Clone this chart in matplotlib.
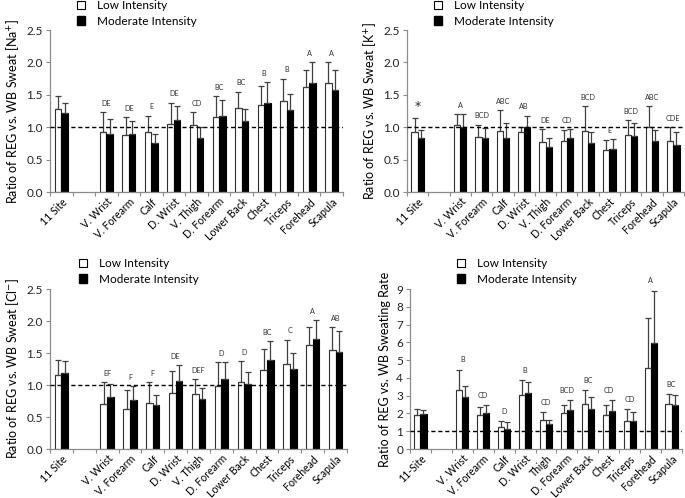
import matplotlib
matplotlib.use("Agg")
import matplotlib.pyplot as plt
from matplotlib.patches import Patch
import numpy as np

plt.rcParams['font.family'] = ['Lato', 'DejaVu Sans']

sites = ["11 Site", "V. Wrist", "V. Forearm", "Calf", "D. Wrist", "V. Thigh",
         "D. Forearm", "Lower Back", "Chest", "Triceps", "Forehead", "Scapula"]
sites_sr = ["11-Site", "V. Wrist", "V. Forearm", "Calf", "D. Wrist", "Thigh",
            "D. Forearm", "Lower Back", "Chest", "Triceps", "Forehead", "Scapula"]

# Sodium
na_low = [1.28, 0.92, 0.88, 0.93, 1.05, 1.03, 1.15, 1.29, 1.34, 1.41, 1.62, 1.68]
na_low_err = [0.20, 0.31, 0.28, 0.25, 0.33, 0.20, 0.33, 0.26, 0.30, 0.34, 0.27, 0.33]
na_mod = [1.22, 0.90, 0.89, 0.75, 1.11, 0.84, 1.17, 1.09, 1.38, 1.27, 1.68, 1.57]
na_mod_err = [0.16, 0.22, 0.20, 0.15, 0.22, 0.16, 0.25, 0.19, 0.31, 0.24, 0.32, 0.32]
na_sig = ["", "DE", "DE", "E", "DE", "CD", "BC", "BC", "B", "B", "A", "A"]

# Potassium
k_low = [0.92, 1.03, 0.85, 0.94, 0.92, 0.77, 0.79, 0.94, 0.65, 0.88, 1.01, 0.79]
k_low_err = [0.22, 0.17, 0.19, 0.32, 0.09, 0.20, 0.16, 0.38, 0.15, 0.23, 0.32, 0.21]
k_mod = [0.83, 1.00, 0.84, 0.84, 1.00, 0.70, 0.83, 0.75, 0.66, 0.86, 0.79, 0.72]
k_mod_err = [0.12, 0.20, 0.14, 0.22, 0.18, 0.13, 0.14, 0.17, 0.16, 0.20, 0.16, 0.20]
k_sig = ["*", "A", "BCD", "ABC", "AB", "DE", "CD", "BCD", "E", "BCD", "ABC", "CDE"]

# Chloride
cl_low = [1.16, 0.71, 0.63, 0.72, 0.87, 0.86, 0.99, 1.04, 1.24, 1.33, 1.62, 1.55]
cl_low_err = [0.23, 0.34, 0.29, 0.32, 0.35, 0.23, 0.37, 0.33, 0.33, 0.38, 0.29, 0.36]
cl_mod = [1.19, 0.82, 0.77, 0.68, 1.06, 0.78, 1.10, 1.01, 1.39, 1.25, 1.72, 1.52]
cl_mod_err = [0.18, 0.20, 0.21, 0.17, 0.25, 0.17, 0.26, 0.20, 0.30, 0.25, 0.30, 0.33]
cl_sig = ["", "EF", "F", "F", "DE", "DEF", "D", "D", "BC", "C", "A", "AB"]

# Sweating rate
sr_low = [1.91, 3.31, 1.93, 1.24, 3.01, 1.65, 2.00, 2.53, 1.89, 1.55, 4.55, 2.53]
sr_low_err = [0.34, 1.16, 0.43, 0.35, 0.87, 0.41, 0.45, 0.78, 0.56, 0.68, 2.81, 0.56]
sr_mod = [1.95, 2.94, 2.04, 1.14, 3.13, 1.42, 2.21, 2.23, 2.12, 1.57, 5.94, 2.49]
sr_mod_err = [0.24, 0.62, 0.43, 0.36, 0.62, 0.23, 0.56, 0.71, 0.63, 0.49, 2.97, 0.52]
sr_sig = ["", "B", "CD", "D", "B", "CD", "BCD", "BC", "CD", "CD", "A", "BC"]

fig = plt.figure(figsize=(6.85, 4.98), dpi=100)
W, H = 685.0, 498.0

def make_axes(l, r, t, b):
    return fig.add_axes([l / W, 1 - b / H, (r - l) / W, (b - t) / H])

positions = [0] + list(range(2, 13))
bw = 0.29
spine_col = '#8c8c8c'
err_col = '#404040'

def panel(ax, labels, low, low_err, mod, mod_err, sig, ylim, yticks, fmt, ylabel, sig_off, legend_xy):
    x = np.array(positions, dtype=float)
    ax.bar(x - bw / 2, low, bw, color='white', edgecolor='#303030', linewidth=0.8, zorder=2)
    ax.bar(x + bw / 2, mod, bw, color='black', edgecolor='black', linewidth=0.8, zorder=2)
    ax.errorbar(x - bw / 2, low, yerr=[np.zeros(len(low)), low_err], fmt='none',
                ecolor=err_col, elinewidth=0.9, capsize=2.2, capthick=0.9, zorder=3)
    ax.errorbar(x + bw / 2, mod, yerr=[np.zeros(len(mod)), mod_err], fmt='none',
                ecolor=err_col, elinewidth=0.9, capsize=2.2, capthick=0.9, zorder=3)
    ax.axhline(1.0, color='black', linestyle=(0, (3, 2)), linewidth=1.0, zorder=4)
    for xi, s, lo, le, mo, me in zip(x, sig, low, low_err, mod, mod_err):
        if s:
            top = max(lo + le, mo + me)
            if s == "*":
                ax.text(xi, top + sig_off, s, ha='center', va='bottom', fontsize=9,
                        color='#333333', family='DejaVu Sans')
            else:
                ax.text(xi, top + sig_off, s, ha='center', va='bottom', fontsize=5.2,
                        color='#333333')
    ax.set_xlim(-0.5, 12.5)
    ax.set_ylim(*ylim)
    ax.set_yticks(yticks)
    ax.set_yticklabels([fmt.format(v) for v in yticks], fontsize=8.5, color='#222222')
    ax.set_xticks(x)
    ax.set_xticklabels(labels, rotation=45, ha='right', rotation_mode='anchor', fontsize=7.6)
    ax.set_xticks(np.arange(-0.5, 13.0, 1.0), minor=True)
    ax.tick_params(axis='x', which='major', length=0, pad=3)
    ax.tick_params(axis='x', which='minor', length=3, color=spine_col, width=0.8)
    ax.tick_params(axis='y', length=3, color=spine_col, width=0.8, pad=2)
    for sp in ['top', 'right']:
        ax.spines[sp].set_visible(False)
    for sp in ['left', 'bottom']:
        ax.spines[sp].set_color(spine_col)
        ax.spines[sp].set_linewidth(0.9)
    ax.set_ylabel(ylabel, fontsize=9, labelpad=4)
    handles = [Patch(facecolor='white', edgecolor='black', linewidth=0.8),
               Patch(facecolor='black', edgecolor='black')]
    ax.legend(handles, ["Low Intensity", "Moderate Intensity"], loc='upper left',
              bbox_to_anchor=(legend_xy[0] / W, 1 - legend_xy[1] / H),
              bbox_transform=fig.transFigure, frameon=False, fontsize=8.5,
              handlelength=0.7, handleheight=0.7, handletextpad=1.0,
              labelspacing=0.4, borderpad=0, borderaxespad=0)

ax1 = make_axes(50, 343, 30, 192)
panel(ax1, sites, na_low, na_low_err, na_mod, na_mod_err, na_sig, (0, 2.5),
      [0, 0.5, 1.0, 1.5, 2.0, 2.5], "{:.1f}", "Ratio of REG vs. WB Sweat [Na$^{+}$]", 0.08, (77, 0))

ax2 = make_axes(407, 684, 30, 192)
panel(ax2, sites, k_low, k_low_err, k_mod, k_mod_err, k_sig, (0, 2.5),
      [0, 0.5, 1.0, 1.5, 2.0, 2.5], "{:.1f}", "Ratio of REG vs. WB Sweat [K$^{+}$]", 0.08, (434, 0))

ax3 = make_axes(50, 347, 289, 449)
panel(ax3, sites, cl_low, cl_low_err, cl_mod, cl_mod_err, cl_sig, (0, 2.5),
      [0, 0.5, 1.0, 1.5, 2.0, 2.5], "{:.1f}", "Ratio of REG vs. WB Sweat [Cl$^{-}$]", 0.08, (79, 258))

ax4 = make_axes(410, 682, 289, 449)
panel(ax4, sites_sr, sr_low, sr_low_err, sr_mod, sr_mod_err, sr_sig, (0, 9),
      list(range(0, 10)), "{:d}", "Ratio of REG vs. WB Sweating Rate", 0.35, (457, 258))

fig.savefig("out.png", dpi=100)
